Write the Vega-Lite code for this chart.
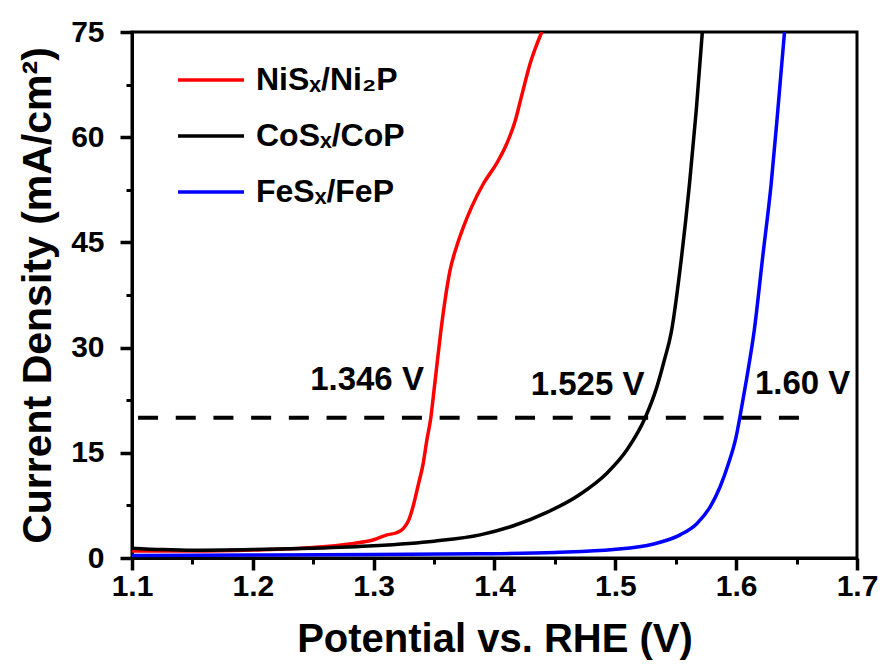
{
  "$schema": "https://vega.github.io/schema/vega-lite/v6.json",
  "autosize": {"type": "none"},
  "width": 725,
  "height": 526,
  "padding": {"left": 132, "top": 32, "right": 25, "bottom": 108},
  "background": "white",
  "config": {
    "font": "Liberation Sans",
    "view": {"stroke": "black", "strokeWidth": 3},
    "axis": {
      "grid": false,
      "ticks": true,
      "zindex": 2,
      "domainColor": "#000000",
      "domainWidth": 3,
      "tickColor": "#000000",
      "tickWidth": 3,
      "tickOpacity": 1,
      "labelColor": "black",
      "labelFontWeight": "bold",
      "labelFontSize": 30,
      "labelFlush": false,
      "labelOverlap": false,
      "titleColor": "black",
      "titleFontWeight": "bold",
      "titleFontSize": 40
    },
    "legend": {
      "orient": "none",
      "legendX": 44,
      "legendY": 33,
      "symbolType": "stroke",
      "symbolSize": 4356,
      "symbolStrokeWidth": 3.5,
      "clipHeight": 30,
      "rowPadding": 24,
      "labelFontSize": 32,
      "labelFontWeight": "bold",
      "labelColor": "black",
      "labelOffset": 10,
      "title": null
    }
  },
  "datasets": {
    "curves": [
      {"series": "NiSₓ/Ni₂P", "V": 1.100, "J": 1.00},
      {"series": "NiSₓ/Ni₂P", "V": 1.150, "J": 1.00},
      {"series": "NiSₓ/Ni₂P", "V": 1.200, "J": 1.15},
      {"series": "NiSₓ/Ni₂P", "V": 1.250, "J": 1.50},
      {"series": "NiSₓ/Ni₂P", "V": 1.280, "J": 2.00},
      {"series": "NiSₓ/Ni₂P", "V": 1.300, "J": 2.60},
      {"series": "NiSₓ/Ni₂P", "V": 1.311, "J": 3.30},
      {"series": "NiSₓ/Ni₂P", "V": 1.319, "J": 3.60},
      {"series": "NiSₓ/Ni₂P", "V": 1.3245, "J": 4.20},
      {"series": "NiSₓ/Ni₂P", "V": 1.329, "J": 5.40},
      {"series": "NiSₓ/Ni₂P", "V": 1.333, "J": 7.60},
      {"series": "NiSₓ/Ni₂P", "V": 1.337, "J": 10.5},
      {"series": "NiSₓ/Ni₂P", "V": 1.341, "J": 13.5},
      {"series": "NiSₓ/Ni₂P", "V": 1.344, "J": 16.8},
      {"series": "NiSₓ/Ni₂P", "V": 1.3473, "J": 20.0},
      {"series": "NiSₓ/Ni₂P", "V": 1.3500, "J": 24.0},
      {"series": "NiSₓ/Ni₂P", "V": 1.3522, "J": 27.3},
      {"series": "NiSₓ/Ni₂P", "V": 1.3555, "J": 32.2},
      {"series": "NiSₓ/Ni₂P", "V": 1.3591, "J": 36.8},
      {"series": "NiSₓ/Ni₂P", "V": 1.3632, "J": 41.0},
      {"series": "NiSₓ/Ni₂P", "V": 1.3688, "J": 44.5},
      {"series": "NiSₓ/Ni₂P", "V": 1.3743, "J": 47.2},
      {"series": "NiSₓ/Ni₂P", "V": 1.3812, "J": 50.1},
      {"series": "NiSₓ/Ni₂P", "V": 1.3909, "J": 53.4},
      {"series": "NiSₓ/Ni₂P", "V": 1.4019, "J": 56.3},
      {"series": "NiSₓ/Ni₂P", "V": 1.4102, "J": 59.1},
      {"series": "NiSₓ/Ni₂P", "V": 1.4171, "J": 62.3},
      {"series": "NiSₓ/Ni₂P", "V": 1.4226, "J": 66.0},
      {"series": "NiSₓ/Ni₂P", "V": 1.4295, "J": 70.5},
      {"series": "NiSₓ/Ni₂P", "V": 1.4391, "J": 75.0},
      {"series": "CoSₓ/CoP", "V": 1.100, "J": 1.40},
      {"series": "CoSₓ/CoP", "V": 1.125, "J": 1.20},
      {"series": "CoSₓ/CoP", "V": 1.150, "J": 1.10},
      {"series": "CoSₓ/CoP", "V": 1.200, "J": 1.20},
      {"series": "CoSₓ/CoP", "V": 1.250, "J": 1.40},
      {"series": "CoSₓ/CoP", "V": 1.300, "J": 1.75},
      {"series": "CoSₓ/CoP", "V": 1.350, "J": 2.40},
      {"series": "CoSₓ/CoP", "V": 1.3881, "J": 3.30},
      {"series": "CoSₓ/CoP", "V": 1.4157, "J": 4.60},
      {"series": "CoSₓ/CoP", "V": 1.4433, "J": 6.50},
      {"series": "CoSₓ/CoP", "V": 1.4709, "J": 9.10},
      {"series": "CoSₓ/CoP", "V": 1.4930, "J": 12.1},
      {"series": "CoSₓ/CoP", "V": 1.5095, "J": 15.4},
      {"series": "CoSₓ/CoP", "V": 1.5247, "J": 20.0},
      {"series": "CoSₓ/CoP", "V": 1.5344, "J": 24.4},
      {"series": "CoSₓ/CoP", "V": 1.5407, "J": 28.3},
      {"series": "CoSₓ/CoP", "V": 1.5462, "J": 32.1},
      {"series": "CoSₓ/CoP", "V": 1.5545, "J": 42.5},
      {"series": "CoSₓ/CoP", "V": 1.5614, "J": 53.4},
      {"series": "CoSₓ/CoP", "V": 1.5670, "J": 63.9},
      {"series": "CoSₓ/CoP", "V": 1.5720, "J": 75.0},
      {"series": "FeSₓ/FeP", "V": 1.100, "J": 0.35},
      {"series": "FeSₓ/FeP", "V": 1.200, "J": 0.42},
      {"series": "FeSₓ/FeP", "V": 1.300, "J": 0.50},
      {"series": "FeSₓ/FeP", "V": 1.388, "J": 0.60},
      {"series": "FeSₓ/FeP", "V": 1.450, "J": 0.80},
      {"series": "FeSₓ/FeP", "V": 1.4985, "J": 1.20},
      {"series": "FeSₓ/FeP", "V": 1.5316, "J": 2.00},
      {"series": "FeSₓ/FeP", "V": 1.5536, "J": 3.30},
      {"series": "FeSₓ/FeP", "V": 1.5674, "J": 4.90},
      {"series": "FeSₓ/FeP", "V": 1.5785, "J": 7.30},
      {"series": "FeSₓ/FeP", "V": 1.5868, "J": 10.2},
      {"series": "FeSₓ/FeP", "V": 1.5937, "J": 13.5},
      {"series": "FeSₓ/FeP", "V": 1.6000, "J": 17.3},
      {"series": "FeSₓ/FeP", "V": 1.6030, "J": 20.0},
      {"series": "FeSₓ/FeP", "V": 1.6085, "J": 25.4},
      {"series": "FeSₓ/FeP", "V": 1.6150, "J": 32.5},
      {"series": "FeSₓ/FeP", "V": 1.6220, "J": 43.0},
      {"series": "FeSₓ/FeP", "V": 1.6290, "J": 53.4},
      {"series": "FeSₓ/FeP", "V": 1.6345, "J": 63.9},
      {"series": "FeSₓ/FeP", "V": 1.6400, "J": 75.0}
    ],
    "ref": [
      {"V": 1.105, "V2": 1.6555, "J": 20}
    ],
    "notes": [
      {"V": 1.2945, "J": 25.4, "label": "1.346 V"},
      {"V": 1.477, "J": 24.7, "label": "1.525 V"},
      {"V": 1.655, "J": 24.8, "label": "1.60 V"}
    ]
  },
  "resolve": {"axis": {"x": "independent", "y": "independent"}},
  "layer": [
    {
      "data": {"name": "curves"},
      "mark": {"type": "line", "strokeWidth": 3.5, "interpolate": "monotone", "clip": true},
      "encoding": {
        "x": {
          "field": "V",
          "type": "quantitative",
          "scale": {"domain": [1.1, 1.7], "nice": false, "zero": false},
          "axis": {
            "orient": "bottom",
            "title": "Potential vs. RHE (V)",
            "values": [1.1, 1.2, 1.3, 1.4, 1.5, 1.6, 1.7],
            "format": ".1f",
            "ticks": true,
            "tickSize": 12,
            "tickWidth": 3.5,
            "tickColor": "#000000",
            "labelPadding": 1,
            "titlePadding": 18
          }
        },
        "y": {
          "field": "J",
          "type": "quantitative",
          "scale": {"domain": [0, 75], "nice": false, "zero": true},
          "axis": {
            "orient": "left",
            "title": "Current Density (mA/cm²)",
            "titleFontSize": 41,
            "values": [0, 15, 30, 45, 60, 75],
            "format": "d",
            "ticks": true,
            "tickSize": 12,
            "tickWidth": 3.5,
            "tickColor": "#000000",
            "labelPadding": 16,
            "titlePadding": 11
          }
        },
        "color": {
          "field": "series",
          "type": "nominal",
          "sort": null,
          "scale": {
            "domain": ["NiSₓ/Ni₂P", "CoSₓ/CoP", "FeSₓ/FeP"],
            "range": ["#ff0000", "#000000", "#0000ff"]
          }
        }
      }
    },
    {
      "data": {"name": "ref"},
      "mark": {"type": "rule", "strokeWidth": 4, "strokeDash": [20, 17.7], "color": "black"},
      "encoding": {
        "x": {
          "field": "V",
          "type": "quantitative",
          "axis": {
            "orient": "bottom",
            "title": null,
            "values": [1.15, 1.25, 1.35, 1.45, 1.55, 1.65],
            "labels": false,
            "domain": false,
            "ticks": true,
            "tickSize": 6,
            "tickWidth": 3,
            "tickColor": "#000000"
          }
        },
        "x2": {"field": "V2"},
        "y": {
          "field": "J",
          "type": "quantitative",
          "axis": {
            "orient": "left",
            "title": null,
            "values": [7.5, 22.5, 37.5, 52.5, 67.5],
            "labels": false,
            "domain": false,
            "ticks": true,
            "tickSize": 6,
            "tickWidth": 3,
            "tickColor": "#000000"
          }
        }
      }
    },
    {
      "data": {"name": "notes"},
      "mark": {"type": "text", "fontSize": 33, "fontWeight": "bold", "color": "black", "align": "center", "baseline": "middle"},
      "encoding": {
        "x": {"field": "V", "type": "quantitative", "axis": null},
        "y": {"field": "J", "type": "quantitative", "axis": null},
        "text": {"field": "label"}
      }
    }
  ]
}
